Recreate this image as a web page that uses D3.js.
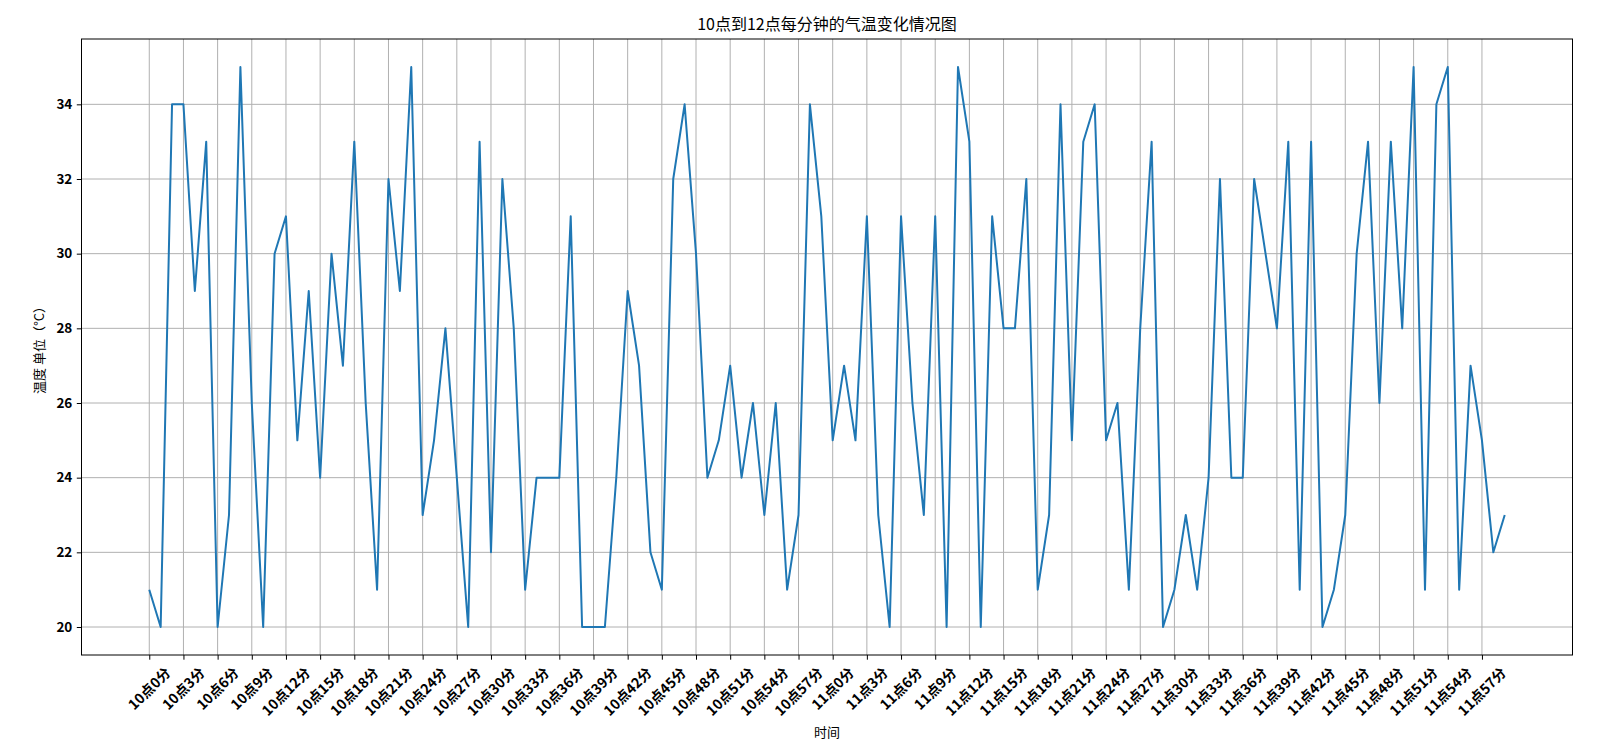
<!DOCTYPE html>
<html>
<head>
<meta charset="utf-8">
<script src="https://cdn.jsdelivr.net/npm/d3@7/dist/d3.min.js"></script>
<style>
  body { margin: 0; background: #fff; }
  svg text { font-family: "Noto Sans CJK SC", "DejaVu Sans", sans-serif; fill: #000; }
</style>
</head>
<body>
<svg id="chart" width="1618" height="740"></svg>
<script>
const title = "10点到12点每分钟的气温变化情况图";
const xTitle = "时间";
const yTitle = "温度 单位（°C）";

// one reading per minute, 10:00 .. 11:59
const temps = [
  21, 20, 34, 34, 29, 33, 20, 23, 35, 26, 20, 30, 31, 25, 29, 24, 30, 27,
  33, 26, 21, 32, 29, 35, 23, 25, 28, 24, 20, 33, 22, 32, 28, 21, 24, 24, 24, 31, 20, 20,
  20, 24, 29, 27, 22, 21, 32, 34, 30, 24, 25, 27, 24, 26, 23, 26, 21, 23, 34, 31, 25, 27, 25,
  31, 23, 20, 31, 26, 23, 31, 20, 35, 33, 20, 31, 28, 28, 32, 21, 23, 34, 25, 33, 34, 25,
  26, 21, 28, 33, 20, 21, 23, 21, 24, 32, 24, 24, 32, 30, 28, 33, 21, 33, 20, 21, 23, 30,
  33, 26, 33, 28, 35, 21, 34, 35, 21, 27, 25, 22, 23,
];
const minuteLabels = temps.map((_, i) => i < 60 ? `10点${i}分` : `11点${i - 60}分`);
const xTickIdx = d3.range(0, 120, 3);
const yTicks = [20, 22, 24, 26, 28, 30, 32, 34];

const plotL = 81.5, plotR = 1572.5, plotT = 39, plotB = 655;
const svg = d3.select("#chart");

const pad = (temps.length - 1) * 0.05;
const x = d3.scaleLinear().domain([-pad, temps.length - 1 + pad]).range([plotL, plotR]);
const yMin = d3.min(temps), yMax = d3.max(temps), yPad = (yMax - yMin) * 0.05;
const y = d3.scaleLinear().domain([yMin - yPad, yMax + yPad]).range([plotB, plotT]);

// grid
svg.append("g").selectAll("line").data(xTickIdx).join("line")
  .attr("x1", (d) => x(d)).attr("x2", (d) => x(d)).attr("y1", plotT).attr("y2", plotB)
  .attr("stroke", "#b0b0b0").attr("stroke-width", 1);
svg.append("g").selectAll("line").data(yTicks).join("line")
  .attr("x1", plotL).attr("x2", plotR).attr("y1", (d) => y(d)).attr("y2", (d) => y(d))
  .attr("stroke", "#b0b0b0").attr("stroke-width", 1);

// line
svg.append("path").datum(temps)
  .attr("fill", "none").attr("stroke", "#1f77b4").attr("stroke-width", 2)
  .attr("stroke-linejoin", "round")
  .attr("d", d3.line().x((d, i) => x(i)).y((d) => y(d)));

// y axis
const yAxis = svg.append("g").attr("transform", `translate(${plotL},0)`)
  .call(d3.axisLeft(y).tickValues(yTicks).tickSize(4.7).tickPadding(4.5));
yAxis.select(".domain").remove();
yAxis.selectAll("text").attr("font-size", 13.5).attr("font-weight", "bold")
  .style("font-family", '"Noto Sans CJK SC", sans-serif');

// x axis
const xAxis = svg.append("g").attr("transform", `translate(0,${plotB})`)
  .call(d3.axisBottom(x).tickValues(xTickIdx).tickSize(4.7).tickFormat((d) => minuteLabels[d]));
xAxis.select(".domain").remove();
xAxis.selectAll("text").each(function () {
  const t = d3.select(this)
    .attr("font-size", 14).attr("font-weight", "bold")
    .style("font-family", '"Noto Sans CJK SC", sans-serif')
    .attr("text-anchor", "middle").attr("dy", null).attr("y", null)
    .attr("dominant-baseline", "central");
  const w = this.getComputedTextLength();
  const h = 15;
  const cy = 9 + (w + h) / (2 * Math.SQRT2);
  t.attr("transform", `translate(-1,${cy}) rotate(-45)`);
});

// frame
svg.append("rect").attr("x", plotL).attr("y", plotT)
  .attr("width", plotR - plotL).attr("height", plotB - plotT)
  .attr("fill", "none").attr("stroke", "#000").attr("stroke-width", 1);

// titles
svg.append("text").attr("x", (plotL + plotR) / 2).attr("y", 30)
  .attr("text-anchor", "middle").attr("font-size", 16).text(title);
svg.append("text").attr("x", (plotL + plotR) / 2).attr("y", 737)
  .attr("text-anchor", "middle").attr("font-size", 13).text(xTitle);
svg.append("text").attr("transform", `translate(44,${(plotT + plotB) / 2}) rotate(-90)`)
  .attr("text-anchor", "middle").attr("font-size", 13).text(yTitle);
</script>
</body>
</html>
